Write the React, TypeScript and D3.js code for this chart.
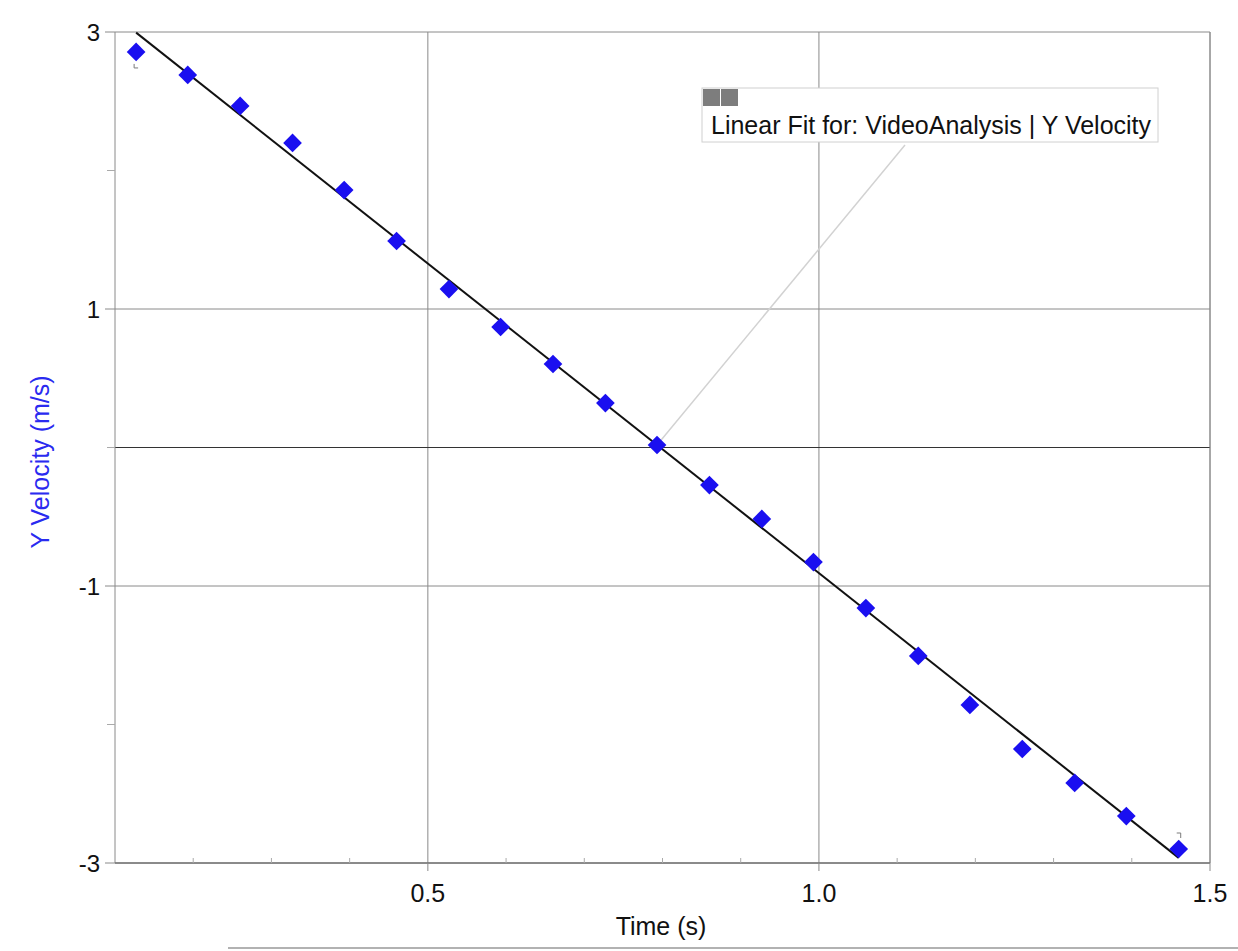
import React from "react";
import * as d3 from "d3";

const times = [
  0.127, 0.193, 0.26, 0.327, 0.393, 0.46, 0.527, 0.593, 0.66, 0.727, 0.793,
  0.86, 0.927, 0.993, 1.06, 1.127, 1.193, 1.26, 1.327, 1.393, 1.46,
];
const yVelocity = [
  2.856, 2.69, 2.466, 2.199, 1.859, 1.491, 1.144, 0.87, 0.603, 0.321, 0.018,
  -0.271, -0.516, -0.827, -1.159, -1.505, -1.859, -2.177, -2.422, -2.661,
  -2.899,
];
const fitSlope = -4.47;
const fitIntercept = 3.563;
const xTicks = [0.5, 1.0, 1.5];
const xMinorTicks = [0.2, 0.3, 0.4, 0.6, 0.7, 0.8, 0.9, 1.1, 1.2, 1.3, 1.4];
const yTicks = [3, 1, -1, -3];
const yMinorTicks = [2, 0, -2];
const fitLabel = "Linear Fit for: VideoAnalysis | Y Velocity";

const W = 1238;
const H = 951;
const margin = { left: 115, right: 28, top: 32, bottom: 88 };
const font = "'Liberation Sans', Arial, sans-serif";

export default function App() {
  const x = d3
    .scaleLinear()
    .domain([0.1, 1.5])
    .range([margin.left, W - margin.right]);
  const y = d3
    .scaleLinear()
    .domain([-3, 3])
    .range([H - margin.bottom, margin.top]);

  const points = times.map((t, i) => ({ t, v: yVelocity[i] }));
  const t0 = times[0];
  const t1 = times[times.length - 1];
  const fitLine = d3
    .line<number>()
    .x((t) => x(t))
    .y((t) => y(fitSlope * t + fitIntercept))([t0, t1]);

  const diamond = d3.symbol().type(d3.symbolSquare).size(175)();
  const [x0, x1] = x.range();
  const [yb, yt] = y.range();
  const anchor = points[10];

  return (
    <svg
      width={W}
      height={H}
      style={{ position: "absolute", left: 0, top: 0, background: "#fff" }}
      fontFamily={font}
    >
      {/* grid */}
      {xTicks.map((t) => (
        <line key={"gx" + t} x1={x(t)} x2={x(t)} y1={yt} y2={yb} stroke="#8a8a8a" strokeWidth={1} />
      ))}
      {yTicks.map((v) => (
        <line key={"gy" + v} x1={x0} x2={x1} y1={y(v)} y2={y(v)} stroke="#8a8a8a" strokeWidth={1} />
      ))}
      <line x1={x0} x2={x1} y1={y(0)} y2={y(0)} stroke="#333" strokeWidth={1.2} />
      <line x1={x0} x2={x0} y1={yt} y2={yb} stroke="#8a8a8a" />
      <line x1={x1} x2={x1} y1={yt} y2={yb} stroke="#8a8a8a" />
      <line x1={x0} x2={x1} y1={yb} y2={yb} stroke="#777" strokeWidth={1.5} />

      {/* minor ticks */}
      {xMinorTicks.map((t) => (
        <line key={"mx" + t} x1={x(t)} x2={x(t)} y1={yb} y2={yb - 5} stroke="#aaa" />
      ))}
      {yMinorTicks.map((v) => (
        <line key={"my" + v} x1={x0 - 8} x2={x0} y1={y(v)} y2={y(v)} stroke="#aaa" />
      ))}
      {yTicks.map((v) => (
        <line key={"ty" + v} x1={x0 - 10} x2={x0} y1={y(v)} y2={y(v)} stroke="#8a8a8a" />
      ))}
      {xTicks.map((t) => (
        <line key={"tx" + t} x1={x(t)} x2={x(t)} y1={yb} y2={yb + 8} stroke="#8a8a8a" />
      ))}

      {/* tick labels */}
      {yTicks.map((v) => (
        <text key={"ly" + v} x={x0 - 15} y={y(v)} dy="0.36em" textAnchor="end" fontSize={24} fill="#111">
          {v}
        </text>
      ))}
      {xTicks.map((t) => (
        <text key={"lx" + t} x={x(t)} y={yb + 39} textAnchor="middle" fontSize={25} fill="#111">
          {t.toFixed(1)}
        </text>
      ))}
      <text x={661} y={935} textAnchor="middle" fontSize={25} fill="#111">
        Time (s)
      </text>
      <text
        transform={`translate(49, 462) rotate(-90)`}
        textAnchor="middle"
        fontSize={25}
        fill="#2a2af0"
      >
        Y Velocity (m/s)
      </text>

      {/* leader line to annotation */}
      <line
        x1={x(anchor.t)}
        y1={y(anchor.v)}
        x2={905}
        y2={145}
        stroke="#d2d2d2"
        strokeWidth={1.5}
      />

      {/* fit line */}
      <path d={fitLine ?? ""} stroke="#111" strokeWidth={2} fill="none" />

      {/* error bar ticks at ends */}
      {[points[0], points[points.length - 1]].map((p, i) => (
        <path
          key={"eb" + i}
          d={
            i === 0
              ? `M${x(p.t) - 2},${y(p.v) + 12}v4h4`
              : `M${x(p.t) - 2},${y(p.v) - 16}h4v5`
          }
          stroke="#7a7a7a"
          fill="none"
          strokeWidth={1}
        />
      ))}

      {/* data points */}
      {points.map((p, i) => (
        <path
          key={"pt" + i}
          d={diamond ?? ""}
          transform={`translate(${x(p.t)},${y(p.v)}) rotate(45)`}
          fill="#1a0ff0"
        />
      ))}

      {/* annotation box */}
      <rect x={702} y={88} width={456} height={54} fill="#fff" stroke="#d0d0d0" strokeWidth={1} />
      <rect x={703} y={89} width={17} height={17} fill="#7d7d7d" />
      <rect x={721} y={89} width={17} height={17} fill="#7d7d7d" />
      <text x={711} y={134} fontSize={25} fill="#111">
        {fitLabel}
      </text>

      {/* bottom artifact line */}
      <line x1={228} x2={W} y1={948} y2={948} stroke="#999" strokeWidth={1.5} />
    </svg>
  );
}
